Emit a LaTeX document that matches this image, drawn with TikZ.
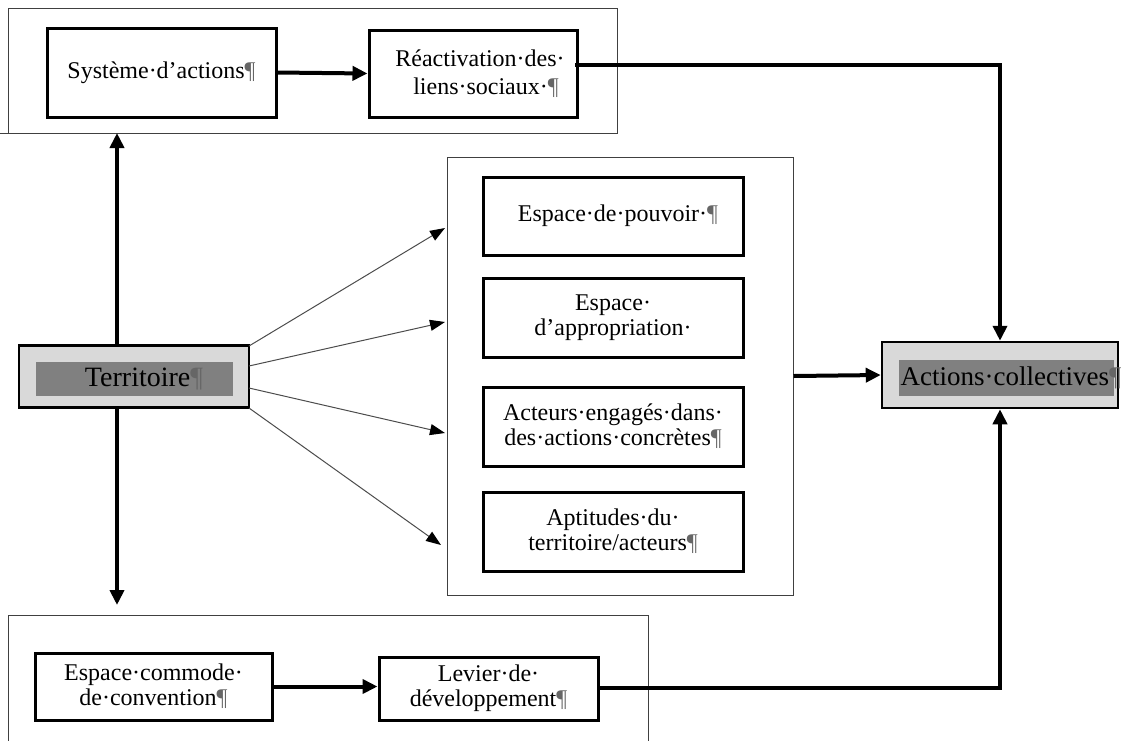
\documentclass[tikz,border=0pt]{standalone}
\usepackage{fontspec}
\setmainfont{Liberation Serif}
\usetikzlibrary{arrows.meta,calc}
\newcommand{\pil}{{\color{black!60}¶}}
\definecolor{lgray}{RGB}{217,217,217}
\definecolor{dgray}{RGB}{128,128,128}
\begin{document}
\begin{tikzpicture}[x=1pt,y=-1pt,
  box/.style={draw, line width=3pt, align=center, inner sep=0pt,
    font=\fontsize{24}{25}\selectfont},
  grp/.style={draw=black!75, line width=1pt},
  thk/.style={line width=4pt, -{Triangle[length=15pt,width=14pt]}},
  thn/.style={draw=black!70, line width=1pt, -{Triangle[length=15pt,width=11pt,color=black]}},
  big/.style={font=\fontsize{27}{30}\selectfont}]
\useasboundingbox (0,0) rectangle (1126,740);
% group frames
\node[grp, minimum width=609pt, minimum height=125pt] (topgrp) at (312.5,70.5) {};
\draw[grp] (0,133) -- (8,133);
\node[grp, minimum width=346pt, minimum height=438pt] (midgrp) at (620,376) {};
\draw[grp] (8,745) |- (648,615) -- (648,745);
% top boxes
\node[box, minimum width=229pt, minimum height=89pt] (sys) at (161.5,72.5) {Système·d’actions\pil};
\node[box, minimum width=208pt, minimum height=87pt, font=\fontsize{24}{28}\selectfont] (reac) at (473,73.5) {\hspace*{14pt}Réactivation·des·\\[0pt]\hspace*{26pt}liens·sociaux·\pil};
% middle boxes
\node[box, minimum width=260pt, minimum height=78pt] (pouv) at (613,216) {\hspace*{10pt}Espace·de·pouvoir·\pil};
\node[box, minimum width=260pt, minimum height=79pt] (appr) at (613,317.5) {Espace·\\d’appropriation·};
\node[box, minimum width=260pt, minimum height=79pt] (acte) at (613,426.5) {Acteurs·engagés·dans·\\des·actions·concrètes\pil};
\node[box, minimum width=260pt, minimum height=79pt] (apti) at (613,531.5) {Aptitudes·du·\\territoire/acteurs\pil};
% bottom boxes
\node[box, minimum width=237pt, minimum height=67pt] (comm) at (153.5,686.5) {Espace·commode·\\de·convention\pil};
\node[box, minimum width=219pt, minimum height=63pt] (lev) at (488.5,688.5) {Levier·de·\\développement\pil};
% Territoire
\node[draw, line width=2.5pt, fill=lgray, minimum width=230pt, minimum height=62pt] (terr) at (134,376.5) {};
\node[fill=dgray, minimum width=197pt, minimum height=34pt, inner sep=0pt, font=\fontsize{28}{30}\selectfont] (terrt) at (134,379) {\hspace*{20pt}Territoire\pil};
% Actions collectives
\node[draw, line width=2.5pt, fill=lgray, minimum width=236pt, minimum height=66pt] (act) at (1000,375) {};
\node[fill=dgray, minimum width=215pt, minimum height=36pt, inner sep=0pt] (actb) at (1006.5,378) {};
\node[big, inner sep=0pt] (actt) at (1011,378) {Actions·collectives\pil};
% coordinates
\coordinate (tu) at (117,345.5);
\coordinate (tuend) at (117,133);
\coordinate (td) at (117,407.5);
\coordinate (tdend) at (117,605);
\coordinate (t1) at (249,346);
\coordinate (t2) at (249,366);
\coordinate (t3) at (249,388);
\coordinate (t4) at (249,408);
\coordinate (e1) at (445,228);
\coordinate (e2) at (445,322);
\coordinate (e3) at (445,433);
\coordinate (e4) at (441,545);
\coordinate (rs) at (577,65);
\coordinate (cx) at (1000,65);
\coordinate (ls) at (598,688);
\coordinate (lx) at (1000,688);
% connectors
\draw[thk] (sys.east) -- (reac.west);
\draw[thk] (comm.east) -- (lev.west |- comm.east);
\draw[thk] (tu) -- (tuend);
\draw[thk] (td) -- (tdend);
\draw[thk] (midgrp.east) -- (act.west);
\draw[thk, line cap=rect] (rs) -- (cx) -- (act.north);
\draw[thk] (ls) -- (lx) -- (act.south);
\draw[thn] (t1) -- (e1);
\draw[thn] (t2) -- (e2);
\draw[thn] (t3) -- (e3);
\draw[thn] (t4) -- (e4);
\end{tikzpicture}
\end{document}
